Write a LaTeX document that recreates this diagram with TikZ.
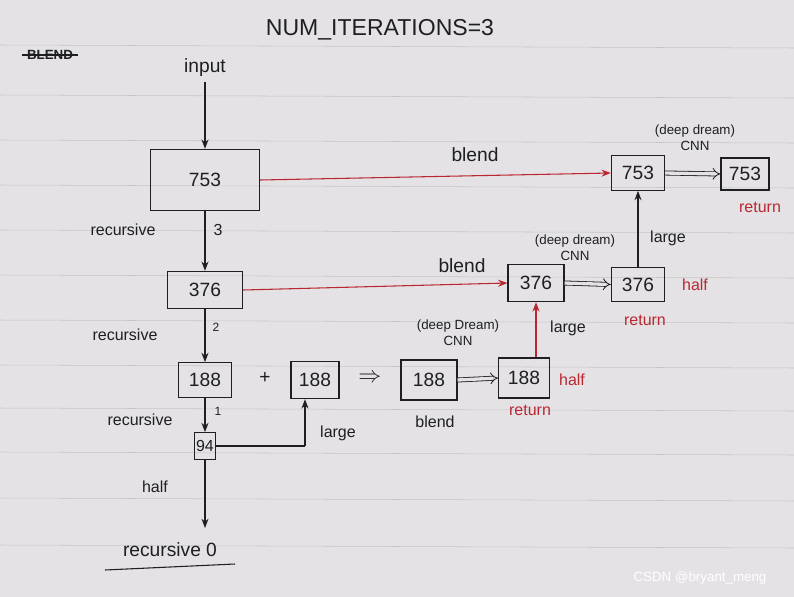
\documentclass[tikz,border=0pt]{standalone}
\usepackage{fontspec}
\setmainfont{Liberation Sans}
\usetikzlibrary{arrows.meta}
\definecolor{paper}{RGB}{228,226,228}
\definecolor{ink}{RGB}{30,30,35}
\definecolor{redink}{RGB}{185,40,50}
\tikzset{
 bx/.style={draw=ink,thick,text=ink,font=\Large,inner sep=3pt},
 lbl/.style={text=ink,font=\large},
 rlbl/.style={text=redink,font=\large},
 ar/.style={draw=ink,thick,-{Stealth[length=7pt]}},
 rar/.style={draw=redink,thick,-{Stealth[length=7pt]}},
 dbl/.style={draw=ink,semithick,double=paper,double distance=2.5pt,-{Implies[length=6pt]}}
}
\begin{document}
\begin{tikzpicture}[x=0.75pt,y=-0.75pt]
\fill[paper] (0,0) rectangle (794,597);
\useasboundingbox (0,0) rectangle (794,597);
\foreach \y in {45,95,140,185,230,275,320,365,408,452,498,545}
  \draw[gray!45] (0,\y) -- (794,\y+3);
\node[lbl,font=\LARGE] (title) at (380,30) {NUM\_ITERATIONS=3};
\node[lbl,font=\bfseries] (bl) at (50,55) {BLEND};
\draw[ink,thick] (bl.west) -- (bl.east);
\node[lbl,font=\Large] (in) at (205,68) {input};
\node[bx,minimum width=82pt,minimum height=46pt] (a753) at (205,180) {753};
\draw[ar] (in) -- (a753.north);
\node[bx,minimum width=56pt,minimum height=28pt] (a376) at (205,290) {376};
\draw[ar] (a753.south) -- (a376.north);
\node[lbl] at (123,230) {recursive};
\node[lbl] at (218,230) {3};
\node[bx,minimum width=40pt,minimum height=26pt] (a188) at (205,380) {188};
\draw[ar] (a376.south) -- (a188.north);
\node[lbl] at (125,335) {recursive};
\node[lbl,font=\small] at (216,327) {2};
\node[bx,minimum width=16pt,minimum height=20pt,inner sep=1pt,font=\large] (a94) at (205,446) {94};
\draw[ar] (a188.south) -- (a94.north);
\node[lbl] at (140,420) {recursive};
\node[lbl,font=\small] at (218,411) {1};
\node[lbl] at (155,487) {half};
\coordinate (r0) at (205,528);
\draw[ar] (a94.south) -- (r0);
\node[lbl,font=\Large] (rec0) at (170,550) {recursive 0};
\draw[ink,thick] (105,570) -- (235,564);
\node[lbl,font=\Large] at (265,378) {+};
\node[bx,minimum width=36pt,minimum height=28pt] (b188) at (315,380) {188};
\coordinate (c94) at (305,448);
\draw[ink,thick] (a94.east) -- (a94.east -| c94);
\draw[ar] (a94.east -| c94) -- (c94 |- b188.south);
\node[lbl] at (338,433) {large};
\node[lbl,font=\LARGE] at (370,378) {$\Rightarrow$};
\node[bx,minimum width=42pt,minimum height=30pt] (c188) at (429,380) {188};
\node[lbl] at (435,422) {blend};
\node[bx,minimum width=38pt,minimum height=30pt] (d188) at (524,378) {188};
\draw[dbl] (c188.east) -- (d188.west);
\node[rlbl] at (530,410) {return};
\node[rlbl] at (572,380) {half};
\node[bx,minimum width=42pt,minimum height=28pt] (b376) at (536,283) {376};
\draw[rar] (d188.north -| b376) -- (b376.south);
\node[lbl] at (568,328) {large};
\node[lbl,font=\normalsize,align=center] at (458,333) {(deep Dream)\\CNN};
\draw[redink,thick,-{Stealth[length=7pt]}] (a376.east) -- (b376.west);
\node[lbl,font=\Large] at (462,266) {blend};
\node[bx,minimum width=40pt,minimum height=26pt] (c376) at (638,284.5) {376};
\draw[dbl] (b376.east) -- (c376.west);
\node[rlbl] at (695,285) {half};
\node[rlbl] at (645,320) {return};
\node[lbl,font=\normalsize,align=center] at (575,248) {(deep dream)\\CNN};
\node[bx,minimum width=40pt,minimum height=26pt] (b753) at (638,173) {753};
\draw[ar] (c376.north) -- (b753.south);
\node[lbl] at (668,238) {large};
\draw[redink,thick,-{Stealth[length=7pt]}] (a753.east) -- (b753.west);
\node[lbl,font=\Large] at (475,155) {blend};
\node[bx,minimum width=36pt,minimum height=24pt] (c753) at (745,174) {753};
\draw[dbl] (b753.east) -- (c753.west);
\node[rlbl] at (760,207) {return};
\node[lbl,font=\normalsize,align=center] at (695,138) {(deep dream)\\CNN};
\node[text=white,font=\normalsize] at (700,578) {CSDN @bryant\_meng};
\end{tikzpicture}
\end{document}
